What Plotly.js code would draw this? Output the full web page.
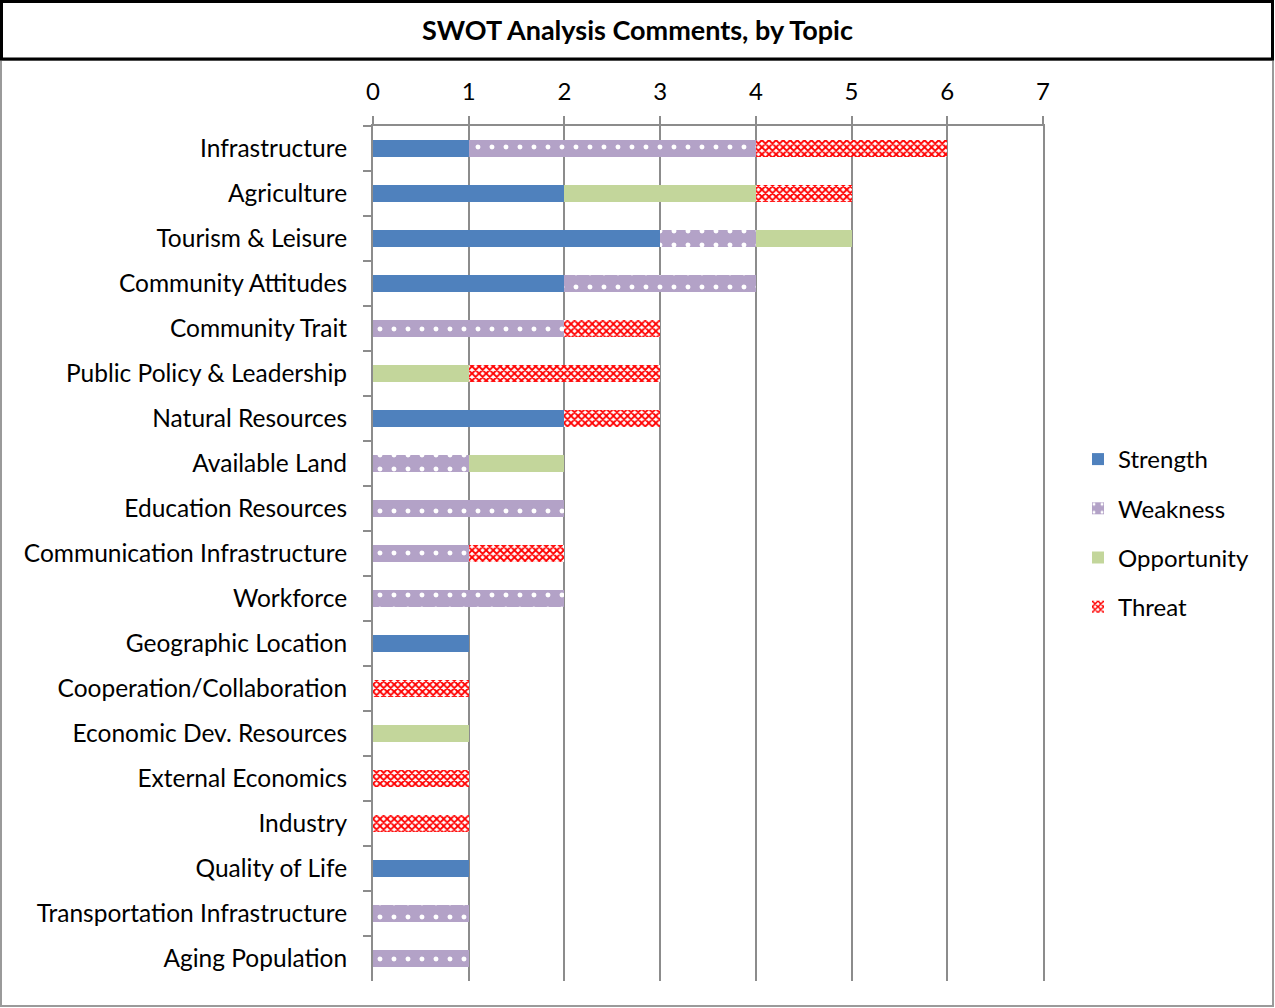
<!DOCTYPE html>
<html>
<head>
<meta charset="utf-8">
<script src="https://cdn.plot.ly/plotly-3.0.1.min.js"></script>
<style>html,body{margin:0;padding:0;background:#fff}#chart{width:1275px;height:1008px}</style>
</head>
<body>
<div id="chart"></div>
<script>
const categories = ["Infrastructure","Agriculture","Tourism & Leisure","Community Attitudes","Community Trait","Public Policy & Leadership","Natural Resources","Available Land","Education Resources","Communication Infrastructure","Workforce","Geographic Location","Cooperation/Collaboration","Economic Dev. Resources","External Economics","Industry","Quality of Life","Transportation Infrastructure","Aging Population"];
const strength    = [1,2,3,2,0,0,2,0,0,0,0,1,0,0,0,0,1,0,0];
const weakness    = [3,0,1,2,2,0,0,1,2,1,2,0,0,0,0,0,0,1,1];
const opportunity = [0,2,1,0,0,1,0,1,0,0,0,0,0,1,0,0,0,0,0];
const threat      = [2,1,0,0,1,2,1,0,0,1,0,0,1,0,1,1,0,0,0];
const xTicks = [0,1,2,3,4,5,6,7];

const FONT = "Lato, 'Liberation Sans', sans-serif";
const W = 1275, H = 1008, L = 373, R = 1043, T = 126, B = 981;
const px = v => (v - L) / (R - L);
const py = v => (B - v) / (B - T);

function mk(name, vals, color, pattern, group) {
  const m = {color: color, line: {width: 0}};
  if (pattern) m.pattern = pattern;
  return {type:'bar', orientation:'h', name:name, x:vals, y:categories, marker:m,
          legendgroup:group, hoverinfo:'x+y+name'};
}

const traces = [
  mk('Strength', strength, '#4F81BD', null, 'g1'),
  mk('Weakness', weakness, '#B3A2C7', {shape:'.', fgcolor:'#ffffff', bgcolor:'#B3A2C7', size:14, solidity:0.1, fillmode:'replace'}, 'g2'),
  mk('Opportunity', opportunity, '#C3D69B', null, 'g3'),
  mk('Threat', threat, '#FF0000', {shape:'x', fgcolor:'#FF0000', bgcolor:'#ffffff', size:5, solidity:0.6, fillmode:'replace'}, 'g4')
];

const layout = {
  width: W, height: H,
  paper_bgcolor:'#ffffff', plot_bgcolor:'#ffffff',
  margin:{l:L, r:W-R, t:T, b:H-B, pad:0},
  barmode:'stack', bargap:0.62,
  font:{family:FONT, size:24, color:'#000'},
  title:{text:'<b>SWOT Analysis Comments, by Topic</b>', x:0.5, xref:'container', xanchor:'center',
         y:1-31/H, yref:'container', yanchor:'middle', font:{family:FONT, size:27, color:'#000'}},
  xaxis:{side:'top', range:[0,7], tickvals:xTicks, ticktext:xTicks.map(String),
         showgrid:true, gridcolor:'#8c8c8c', gridwidth:2, zeroline:false,
         showline:true, linecolor:'#8c8c8c', linewidth:2,
         ticks:'outside', ticklen:8, tickcolor:'#8c8c8c', tickwidth:2, ticklabelstandoff:6,
         tickfont:{family:FONT, size:24, color:'#000'}, fixedrange:true},
  yaxis:{type:'category', autorange:'reversed', range:[18.5,-0.5], mirror:true,
         showline:true, linecolor:'#8c8c8c', linewidth:2, showgrid:false, zeroline:false,
         ticks:'outside', tickson:'boundaries', ticklen:8, tickcolor:'#8c8c8c', tickwidth:2,
         ticklabelstandoff:19, tickfont:{family:FONT, size:24.5, color:'#000'}, fixedrange:true},
  legend:{x:px(1078), xanchor:'left', y:py(533), yanchor:'middle', traceorder:'grouped',
          tracegroupgap:15, font:{family:FONT, size:24, color:'#000'}, bgcolor:'rgba(0,0,0,0)', itemwidth:30},
  shapes:[
    {type:'rect', xref:'paper', yref:'paper', x0:px(1), x1:px(1273), y0:py(60), y1:py(1006),
     line:{color:'#9a9a9a', width:2}, fillcolor:'rgba(0,0,0,0)', layer:'below'},
    {type:'rect', xref:'paper', yref:'paper', x0:px(1.5), x1:px(1272.5), y0:py(59), y1:py(1.5),
     line:{color:'#000000', width:3}, fillcolor:'rgba(0,0,0,0)', layer:'above'}
  ],
  showlegend:true
};

Plotly.newPlot('chart', traces, layout, {displayModeBar:false, staticPlot:true});
</script>
</body>
</html>
